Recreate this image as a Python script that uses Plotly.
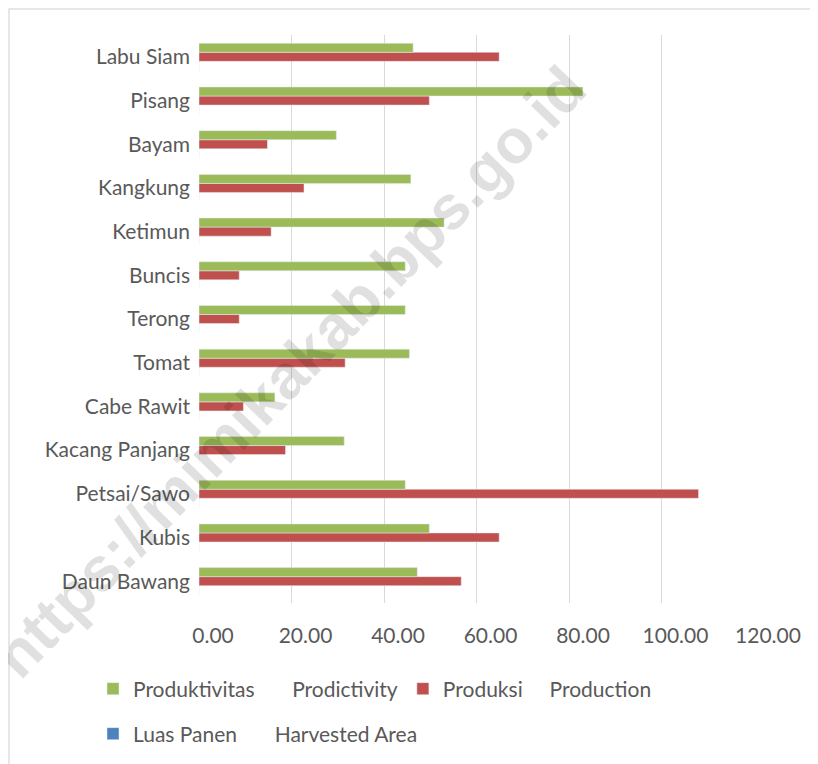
import plotly.graph_objects as go

categories = ["Daun Bawang", "Kubis", "Petsai/Sawo", "Kacang Panjang", "Cabe Rawit",
              "Tomat", "Terong", "Buncis", "Ketimun", "Kangkung", "Bayam", "Pisang", "Labu Siam"]
produktivitas = [47.2, 49.8, 44.6, 31.4, 16.4, 45.5, 44.6, 44.6, 53.0, 45.8, 29.7, 83.0, 46.3]
produksi = [56.7, 64.9, 108.0, 18.7, 9.6, 31.6, 8.7, 8.7, 15.6, 22.7, 14.8, 49.8, 64.9]
luas_panen = [0] * len(categories)

x_ticks = [0, 20, 40, 60, 80, 100, 120]
x_ticklabels = ["0.00", "20.00", "40.00", "60.00", "80.00", "100.00", "120.00"]

NB = "\u00a0"
name_prod = "Produktivitas" + NB * 7 + "Prodictivity"
name_produksi = "Produksi" + NB * 5 + "Production"
name_luas = "Luas Panen" + NB * 7 + "Harvested Area"

FONT = "Lato"
TXT = "#595959"
FS = 21

fig = go.Figure()
fig.add_trace(go.Bar(y=categories, x=luas_panen, orientation="h", name=name_luas,
                     marker_color="#4F81BD", legend="legend2"))
fig.add_trace(go.Bar(y=categories, x=produksi, orientation="h", name=name_produksi,
                     marker_color="#C0504D", legend="legend"))
fig.add_trace(go.Bar(y=categories, x=produktivitas, orientation="h", name=name_prod,
                     marker_color="#9BBB59", legend="legend"))

# page has an 8px body margin: figure occupies page px 8..818, 8..764
OFF = 8
W, H = 818 - OFF, 764 - OFF
L, T = 199 - OFF, 35 - OFF
R = W - (754 - OFF)
B = H - (603 - OFF)
pw, ph = W - L - R, H - T - B

def px(xpage):
    return (xpage - OFF - L) / pw

def py(ypage):
    return (H - B - (ypage - OFF)) / ph

fig.update_layout(
    width=W, height=H,
    margin=dict(l=L, r=R, t=T, b=B, autoexpand=False),
    paper_bgcolor="white", plot_bgcolor="white",
    barmode="group", bargap=0.38, bargroupgap=0,
    font=dict(family=FONT, size=FS, color=TXT),
    xaxis=dict(range=[0, 120], tickvals=x_ticks, ticktext=x_ticklabels,
               showgrid=True, gridcolor="#d9d9d9", gridwidth=1.3,
               zeroline=False, showline=False, ticks="",
               ticklabelstandoff=18, ticklabelshift=14,
               tickfont=dict(family=FONT, size=FS, color=TXT), fixedrange=True),
    yaxis=dict(type="category", categoryorder="array", categoryarray=categories,
               showgrid=False, zeroline=False, showline=False, ticks="",
               ticklabelstandoff=8,
               tickfont=dict(family=FONT, size=FS, color=TXT), fixedrange=True),
    legend=dict(orientation="h", x=px(93), y=py(689), xanchor="left", yanchor="middle",
                traceorder="reversed", font=dict(family=FONT, size=FS, color=TXT),
                bgcolor="rgba(0,0,0,0)", itemwidth=30),
    legend2=dict(orientation="h", x=px(93), y=py(734), xanchor="left", yanchor="middle",
                 font=dict(family=FONT, size=FS, color=TXT),
                 bgcolor="rgba(0,0,0,0)", itemwidth=30),
    showlegend=True,
    shapes=[dict(type="rect", xref="paper", yref="paper",
                 x0=px(9), x1=px(840), y0=py(800), y1=py(9),
                 line=dict(color="#e0e0e0", width=1.5), layer="below")],
    annotations=[dict(text="https://mimikakab.bps.go.id", xref="paper", yref="paper",
                      x=px(290), y=py(372), xanchor="center", yanchor="middle",
                      showarrow=False, textangle=-46,
                      font=dict(family="Liberation Sans", size=62, color="rgba(0,0,0,0.12)",
                                weight=700))],
)

fig.write_html("out.html")
